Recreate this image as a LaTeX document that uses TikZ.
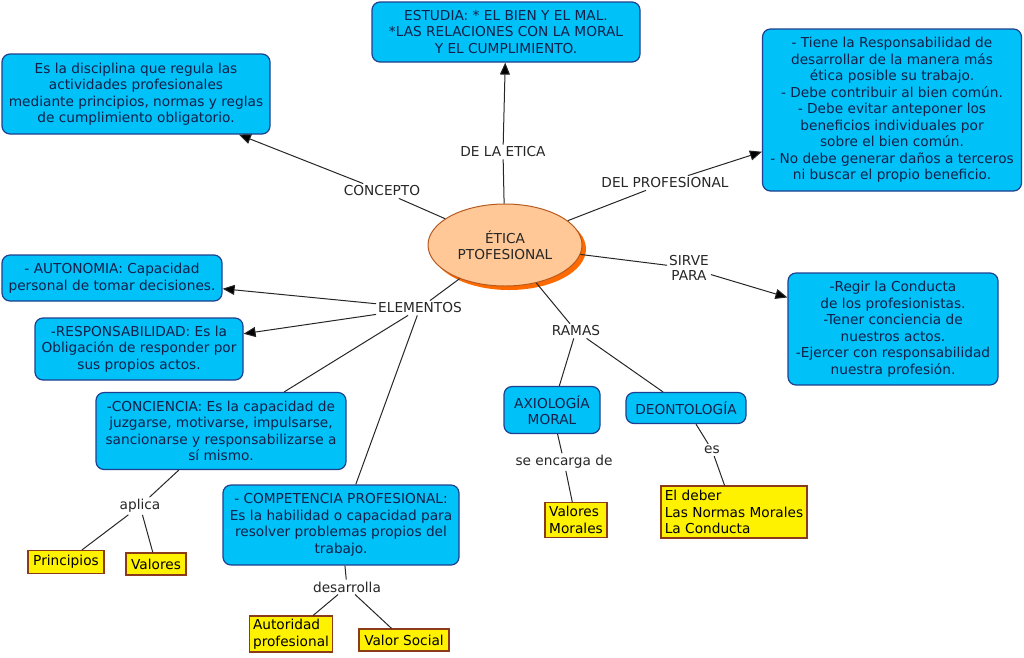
\documentclass[tikz,border=0pt]{standalone}
\usepackage{fontspec}
\setmainfont{DejaVu Sans}
\usetikzlibrary{shapes.geometric,arrows.meta,shadows}
\definecolor{boxblue}{HTML}{00C2F8}
\definecolor{boxedge}{HTML}{1F3F8F}
\definecolor{boxtext}{HTML}{12204A}
\definecolor{leafedge}{HTML}{8B3A1A}
\definecolor{ellfill}{HTML}{FFC896}
\definecolor{elledge}{HTML}{B85A20}
\definecolor{shadoworange}{HTML}{FF6A00}
\begin{document}
\begin{tikzpicture}[x=1pt,y=-1pt,
  txt/.style={font=\fontsize{13.7}{16.5}\selectfont},
  concept/.style={txt, draw=boxedge, fill=boxblue, rounded corners=8pt, line width=1.2pt, text=boxtext, align=center, inner sep=2pt},
  leaf/.style={txt, draw=leafedge, fill=yellow, line width=1.2pt, align=left, inner sep=3pt, text=black},
  link/.style={txt, inner sep=2pt, align=center, text=black!85},
  conn/.style={draw=black!85, line width=1pt},
  arr/.style={conn, -{Triangle[length=12pt,width=10pt]}, arrows={[fill=black]}}]
\useasboundingbox (0,0) rectangle (1024,657);

% central ellipse
\node[ellipse, draw=elledge, fill=ellfill, line width=1pt, minimum width=154pt, minimum height=82pt,
  drop shadow={shadow xshift=4pt, shadow yshift=-4pt, fill=shadoworange, opacity=1},
  txt, align=center, text=black!85] (etica) at (505,245) {ÉTICA\\PTOFESIONAL};

% concept boxes
\node[concept, minimum width=268pt, minimum height=60pt] (estudia) at (506,32)
  {ESTUDIA: * EL BIEN Y EL MAL.\\*LAS RELACIONES CON LA MORAL\\Y EL CUMPLIMIENTO.};
\node[concept, minimum width=268pt, minimum height=80pt] (def) at (136,94)
  {Es la disciplina que regula las\\actividades profesionales\\mediante principios, normas y reglas\\de cumplimiento obligatorio.};
\node[concept, minimum width=259pt, minimum height=162pt] (prof) at (892,110)
  {- Tiene la Responsabilidad de\\desarrollar de la manera más\\ética posible su trabajo.\\- Debe contribuir al bien común.\\- Debe evitar anteponer los\\beneficios individuales por\\sobre el bien común.\\- No debe generar daños a terceros\\ni buscar el propio beneficio.};
\node[concept, minimum width=210pt, minimum height=112pt] (sirve) at (893,329)
  {-Regir la Conducta\\de los profesionistas.\\-Tener conciencia de\\nuestros actos.\\-Ejercer con responsabilidad\\nuestra profesión.};
\node[concept, minimum width=220pt, minimum height=46pt] (auto) at (112,278)
  {- AUTONOMIA: Capacidad\\personal de tomar decisiones.};
\node[concept, minimum width=208pt, minimum height=62pt] (resp) at (139,349)
  {-RESPONSABILIDAD: Es la\\Obligación de responder por\\sus propios actos.};
\node[concept, minimum width=250pt, minimum height=77pt] (conc) at (221,431)
  {-CONCIENCIA: Es la capacidad de\\juzgarse, motivarse, impulsarse,\\sancionarse y responsabilizarse a\\sí mismo.};
\node[concept, minimum width=236pt, minimum height=80pt] (comp) at (341,525)
  {- COMPETENCIA PROFESIONAL:\\Es la habilidad o capacidad para\\resolver problemas propios del\\trabajo.};
\node[concept, minimum width=96pt, minimum height=47pt] (axio) at (552,410)
  {AXIOLOGÍA\\MORAL};
\node[concept, minimum width=120pt, minimum height=31pt] (deon) at (686,408)
  {DEONTOLOGÍA};

% leaves
\node[leaf, minimum width=76pt, minimum height=23pt, align=center] (princ) at (66,562) {Principios};
\node[leaf, minimum width=60pt, minimum height=22pt, align=center] (val) at (156,564) {Valores};
\node[leaf, minimum width=62pt, minimum height=35pt] (valmor) at (576,520) {Valores\\Morales};
\node[leaf, minimum width=146pt, minimum height=52pt] (deber) at (734,512) {El deber\\Las Normas Morales\\La Conducta};
\node[leaf, minimum width=83pt, minimum height=36pt] (autor) at (291,634) {Autoridad\\profesional};
\node[leaf, minimum width=90pt, minimum height=22pt, align=center] (valsoc) at (404,640) {Valor Social};

% linking phrases
\node[link] (ldela) at (503,152) {DE LA ETICA};
\node[link] (lconc) at (382,191) {CONCEPTO};
\node[link] (ldel) at (665,183) {DEL PROFESIONAL};
\node[link, font=\fontsize{13.7}{15}\selectfont] (lsirve) at (689,268) {SIRVE\\PARA};
\node[link] (lelem) at (420,308) {ELEMENTOS};
\node[link] (lramas) at (576,331) {RAMAS};
\node[link] (lapl) at (140,506) {aplica};
\node[link] (ldes) at (347,587) {desarrolla};
\node[link] (lenc) at (564,462) {se encarga de};
\node[link] (les) at (712,450) {es};

% connectors
\draw[conn] (etica) -- (ldela);
\draw[arr] (ldela) -- (estudia);
\draw[conn] (etica) -- (lconc);
\draw[arr] (lconc) -- (def);
\draw[conn] (etica) -- (ldel);
\draw[arr] (ldel) -- (prof);
\draw[conn] (etica) -- (lsirve);
\draw[arr] (lsirve) -- (sirve);
\draw[conn] (etica) -- (lelem);
\draw[arr] (lelem) -- (auto);
\draw[arr] (lelem) -- (resp);
\draw[conn] (lelem) -- (conc);
\draw[conn] (lelem) -- (comp);
\draw[conn] (etica) -- (lramas);
\draw[conn] (lramas) -- (axio);
\draw[conn] (lramas) -- (deon);
\draw[conn] (conc) -- (lapl);
\draw[conn] (lapl) -- (princ);
\draw[conn] (lapl) -- (val);
\draw[conn] (comp) -- (ldes);
\draw[conn] (ldes) -- (autor);
\draw[conn] (ldes) -- (valsoc);
\draw[conn] (axio) -- (lenc);
\draw[conn] (lenc) -- (valmor);
\draw[conn] (deon) -- (les);
\draw[conn] (les) -- (deber);
\end{tikzpicture}
\end{document}
